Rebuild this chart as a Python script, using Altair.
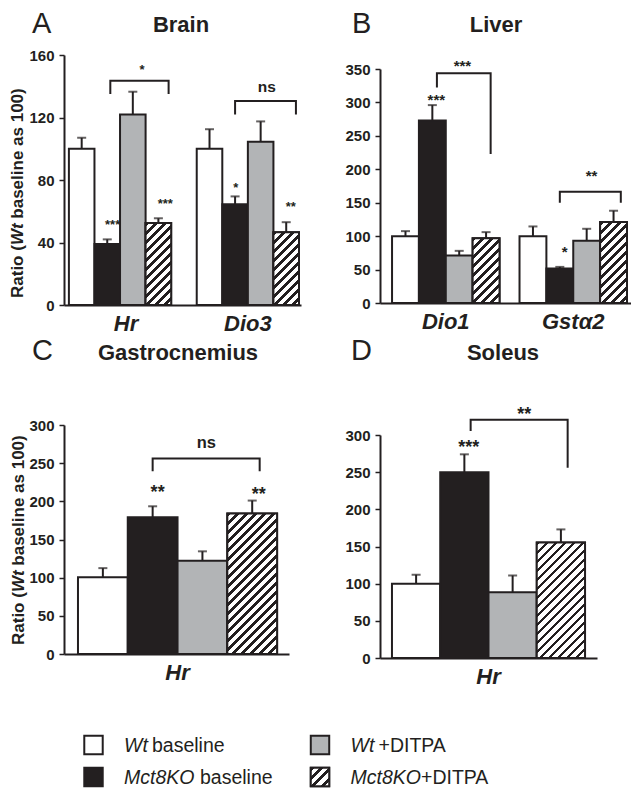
import altair as alt
import pandas as pd

FONT = "Liberation Sans"
INK = "#231f20"

groups = ["Wt baseline", "Mct8KO baseline", "Wt +DITPA", "Mct8KO+DITPA"]
fills = ["#ffffff", "#231f20", "#b2b4b6", "#ffffff"]

# positions of stars/brackets are given in bar units within a gene group (0..4)
# ---- Panel A: Brain ----
brain_genes = ["Hr", "Dio3"]
brain_mean = [100, 39, 122, 52.5, 100, 64.5, 104.5, 46.5]
brain_upper = [107, 42, 136.5, 55.5, 112.5, 69.5, 117.5, 53]
brain_stars = [("Hr", 1.71, 54, "***"), ("Hr", 3.77, 67, "***"), ("Dio3", 1.53, 77.5, "*"), ("Dio3", 3.68, 65, "**")]
brain_brackets = [("Hr", 1.62, 3.9, 143.5, 135, 135, "*", 2.86, 153),
                  ("Dio3", 1.5, 3.88, 130.5, 122, 122, "ns", 2.74, 139.5)]

# ---- Panel B: Liver ----
liver_genes = ["Dio1", "Gstα2"]
liver_mean = [100, 273, 71, 97, 100, 51.5, 93, 121]
liver_upper = [107.5, 296, 78, 106, 114.5, 54, 111, 138]
liver_stars = [("Dio1", 1.65, 310, "***"), ("Gstα2", 1.68, 83, "*")]
liver_brackets = [("Dio1", 1.67, 3.67, 343.5, 322.5, 223, "***", 2.62, 361),
                  ("Gstα2", 1.5, 3.77, 166.5, 150, 150, "**", 2.68, 195.5)]

# ---- Panel C: Gastrocnemius ----
gastro_genes = ["Hr"]
gastro_mean = [100.5, 179, 122, 184]
gastro_upper = [112.5, 193.5, 134.5, 201]
gastro_stars = [("Hr", 1.6, 217, "**"), ("Hr", 3.63, 215, "**")]
gastro_brackets = [("Hr", 1.5, 3.65, 256, 239.5, 239.5, "ns", 2.58, 277)]

# ---- Panel D: Soleus ----
soleus_genes = ["Hr"]
soleus_mean = [100, 250, 88.5, 155.5]
soleus_upper = [112, 274, 111, 173]
soleus_stars = [("Hr", 1.59, 289, "***")]
soleus_brackets = [("Hr", 1.63, 3.64, 320.5, 305.5, 256, "**", 2.74, 334)]

brain_ticks = [0, 40, 80, 120, 160]
liver_ticks = [0, 50, 100, 150, 200, 250, 300, 350]
muscle_ticks = [0, 50, 100, 150, 200, 250, 300]


def hatch_fill(w, h, period=9.0, frac=0.42):
    t = (w + h) / (w * w + h * h)
    L = w + h
    stops = []
    pos = 0.0
    while pos < L - 1e-9:
        o1 = pos / L
        o2 = min((pos + period * frac) / L, 1.0)
        o3 = min((pos + period) / L, 1.0)
        stops += [alt.GradientStop(offset=o1, color=INK), alt.GradientStop(offset=o2, color=INK),
                  alt.GradientStop(offset=o2, color="white"), alt.GradientStop(offset=o3, color="white")]
        pos += period
    return alt.LinearGradient(gradient="linear", stops=stops, x1=0, y1=0, x2=t * w, y2=t * h)


def text_layer(text, x, y, **kw):
    return alt.Chart(pd.DataFrame({"t": [text]})).mark_text(**kw).encode(
        text="t:N", x=alt.value(x), y=alt.value(y))


def panel(genes, means, uppers, stars, brackets, cfg):
    W, H = cfg["width"], cfg["height"]
    XW = cfg.get("xw", W)
    ymax = cfg["ymax"]
    r0, r1 = cfg["yrange"]
    n = len(genes)
    pi, po = cfg["pi"], cfg["po"]
    step = XW / max(1, n - pi + 2 * po)
    bw = step * (1 - pi)

    rows = []
    for i, g in enumerate(genes):
        for j, grp in enumerate(groups):
            k = i * 4 + j
            rows.append({"gene": g, "group": grp, "mean": means[k], "upper": uppers[k]})
    df = pd.DataFrame(rows)

    if XW != W:
        xscale = alt.Scale(domain=genes, paddingInner=pi, paddingOuter=po, align=cfg["align"],
                           range=[0, XW])
    else:
        xscale = alt.Scale(domain=genes, paddingInner=pi, paddingOuter=po, align=cfg["align"])
    axis_kw = dict(title=None, ticks=False, labelAngle=0, labelFontSize=22, labelFontWeight="bold",
                   labelFontStyle="italic", labelColor=INK, labelPadding=8, domainColor=INK,
                   domainWidth=2, offset=cfg["xoff"], grid=False)
    if cfg.get("label_shift"):
        g0, sh = cfg["label_shift"]
        axis_kw["labelOffset"] = {"condition": {"test": f"datum.value === '{g0}'", "value": sh},
                                  "value": 0}
    xaxis = alt.Axis(**axis_kw)
    yscale = alt.Scale(domain=[0, ymax], range=[r0, r1], nice=False, zero=True)
    yaxis = alt.Axis(title=None, values=cfg["ticks"], tickSize=5, tickWidth=1.5, tickColor=INK,
                     domainColor=INK, domainWidth=2, labelFontSize=15, labelFontWeight="bold",
                     labelColor=INK, labelPadding=5, grid=False)
    X = alt.X("gene:N", scale=xscale, axis=xaxis)
    XO = alt.XOffset("group:N", scale=alt.Scale(domain=groups, paddingInner=0, paddingOuter=0,
                                                range=[0, bw]))
    XQ = alt.XOffset("pos:Q", scale=alt.Scale(domain=[0, 4], range=[0, bw], nice=False, zero=False))

    def Y(f):
        return alt.Y(f"{f}:Q", scale=yscale, axis=yaxis)

    layers = []
    bars = alt.Chart(df).mark_bar(stroke=INK, strokeWidth=2).encode(
        x=X, xOffset=XO, y=Y("mean"),
        fill=alt.Fill("group:N", scale=alt.Scale(domain=groups, range=fills), legend=None))
    layers.append(bars)

    barw = bw / 4
    ppu = (r0 - r1) / ymax
    for i, g in enumerate(genes):
        m = means[i * 4 + 3]
        layers.append(
            alt.Chart(df).transform_filter((alt.datum.gene == g) & (alt.datum.group == groups[3]))
            .mark_bar(fill=hatch_fill(barw, m * ppu), stroke=INK, strokeWidth=2)
            .encode(x=X, xOffset=XO, y=Y("mean")))

    layers.append(alt.Chart(df).mark_rule(color=INK, strokeWidth=2).encode(
        x=X, xOffset=XO, y=Y("mean"), y2=alt.Y2("upper")))
    layers.append(alt.Chart(df).mark_tick(color=INK, size=9, thickness=2).encode(
        x=X, xOffset=XO, y=Y("upper")))

    brows, lrows = [], []
    for b, (g, lp, rp, top, llow, rlow, lab, labp, laby) in enumerate(brackets):
        brows += [dict(bid=b, ord=0, gene=g, pos=lp, val=llow),
                  dict(bid=b, ord=1, gene=g, pos=lp, val=top),
                  dict(bid=b, ord=2, gene=g, pos=rp, val=top),
                  dict(bid=b, ord=3, gene=g, pos=rp, val=rlow)]
        lrows.append(dict(gene=g, pos=labp, val=laby, label=lab))
    bdf = pd.DataFrame(brows)
    ldf = pd.DataFrame(lrows)
    sdf = pd.DataFrame([dict(gene=g, pos=p, val=v, label=l) for g, p, v, l in stars])
    layers.append(alt.Chart(bdf).mark_line(color=INK, strokeWidth=2, strokeJoin="miter").encode(
        x=X, xOffset=XQ, y=Y("val"), detail="bid:N", order="ord:Q"))
    allstars = pd.concat([sdf, ldf[ldf.label != "ns"]], ignore_index=True)
    ss = cfg["star"]
    layers.append(alt.Chart(allstars).mark_text(fontSize=ss, fontWeight="bold", color=INK,
                                                baseline="middle", dy=round(ss * 0.28)).encode(
        x=X, xOffset=XQ, y=Y("val"), text="label:N"))
    nsdf = ldf[ldf.label == "ns"]
    if len(nsdf):
        layers.append(alt.Chart(nsdf).mark_text(fontSize=cfg["ns"], fontWeight="bold", color=INK,
                                                baseline="middle").encode(
            x=X, xOffset=XQ, y=Y("val"), text="label:N"))

    lx, ly = cfg["letter"]
    layers.append(text_layer(cfg["letter_text"], lx, ly, fontSize=29, align="left", color=INK,
                             baseline="alphabetic"))
    tx, ty = cfg["title_pos"]
    layers.append(text_layer(cfg["title"], tx, ty, fontSize=22, fontWeight="bold", align="center",
                             color=INK, baseline="alphabetic"))
    if cfg.get("ylabel"):
        yx, yb = cfg["ylabel"]
        fs = 17
        w1 = 3.111 * fs
        w2 = 1.277 * fs + 0.278 * fs
        layers.append(text_layer("Ratio (", yx, yb, angle=270, fontSize=fs, fontWeight="bold",
                                 align="left", baseline="alphabetic", color=INK))
        layers.append(text_layer("Wt", yx, yb - w1, angle=270, fontSize=fs, fontWeight="bold",
                                 fontStyle="italic", align="left", baseline="alphabetic", color=INK))
        layers.append(text_layer("baseline as 100)", yx, yb - w1 - w2, angle=270, fontSize=fs,
                                 fontWeight="bold", align="left", baseline="alphabetic", color=INK))
    return (alt.layer(*layers).resolve_scale(xOffset="independent")
            .properties(width=W, height=H))


pA = panel(brain_genes, brain_mean, brain_upper, brain_stars, brain_brackets, dict(
    width=237, height=250, ymax=160, yrange=[250, 0], ticks=brain_ticks, pi=0.2, po=0.027,
    align=0.71, xoff=0, star=13, ns=15.5, letter=(-32, -22), letter_text="A",
    title="Brain", title_pos=(117, -23), ylabel=(-41, 243), label_shift=("Hr", 6)))
pB = panel(liver_genes, liver_mean, liver_upper, liver_stars, liver_brackets, dict(
    width=251, height=250, ymax=350, yrange=[248, 14], ticks=liver_ticks, pi=0.157, po=0.063,
    align=0.75, xoff=-2, star=15, ns=15.5, letter=(-28, -22), letter_text="B",
    title="Liver", title_pos=(116, -23)))
pC = panel(gastro_genes, gastro_mean, gastro_upper, gastro_stars, gastro_brackets, dict(
    width=237, xw=225, height=281, ymax=300, yrange=[277, 48], ticks=muscle_ticks, pi=0, po=0.065,
    align=0.54, xoff=-4, star=18, ns=16.5, letter=(-32, -17), letter_text="C",
    title="Gastrocnemius", title_pos=(114, -17), ylabel=(-40, 268)))
pD = panel(soleus_genes, soleus_mean, soleus_upper, soleus_stars, soleus_brackets, dict(
    width=217, height=281, ymax=300, yrange=[281, 58], ticks=muscle_ticks, pi=0, po=0.062,
    align=0.5, xoff=0, star=18, ns=16.5, letter=(-29, -17), letter_text="D",
    title="Soleus", title_pos=(123, -17)))

# ---- Legend ----
leg_col = [0, 0, 1, 1]
leg_row = [0, 1, 0, 1]
leg_prefix = ["Wt", "Mct8KO", "Wt", "Mct8KO"]
leg_suffix = ["baseline", "baseline", "+DITPA", "+DITPA"]
leg = pd.DataFrame({"group": groups, "col": leg_col, "row": leg_row,
                    "prefix": leg_prefix, "suffix": leg_suffix})
LX = alt.X("col:Q", scale=alt.Scale(domain=[0, 1], range=[29.5, 256]), axis=None)
LY = alt.Y("row:Q", scale=alt.Scale(domain=[0, 1], range=[15, 47]), axis=None)
LFS = 19.5
leg_layers = [
    alt.Chart(leg).mark_square(size=340, stroke=INK, strokeWidth=2, opacity=1).encode(
        x=LX, y=LY, fill=alt.Fill("group:N", scale=alt.Scale(domain=groups, range=fills), legend=None)),
    alt.Chart(leg).transform_filter(alt.datum.group == groups[3]).mark_square(
        size=340, stroke=INK, strokeWidth=2, opacity=1, fill=hatch_fill(18, 18, period=9, frac=0.42)).encode(
        x=LX, y=LY),
    alt.Chart(leg).mark_text(align="left", baseline="alphabetic", dx=30.5, dy=7, fontSize=LFS,
                             fontStyle="italic", color=INK).encode(x=LX, y=LY, text="prefix:N"),
    alt.Chart(leg).transform_filter(alt.datum.prefix == "Wt").mark_text(
        align="left", baseline="alphabetic", dx=30.5 + 28, dy=7, fontSize=LFS, color=INK).encode(
        x=LX, y=LY, text="suffix:N"),
    alt.Chart(leg).transform_filter((alt.datum.prefix == "Mct8KO") & (alt.datum.suffix == "baseline")).mark_text(
        align="left", baseline="alphabetic", dx=30.5 + 76, dy=7, fontSize=LFS, color=INK).encode(
        x=LX, y=LY, text="suffix:N"),
    alt.Chart(leg).transform_filter((alt.datum.prefix == "Mct8KO") & (alt.datum.suffix == "+DITPA")).mark_text(
        align="left", baseline="alphabetic", dx=30.5 + 70.5, dy=7, fontSize=LFS, color=INK).encode(
        x=LX, y=LY, text="suffix:N"),
]
legend = alt.layer(*leg_layers).properties(width=237, height=60)

chart = (alt.concat(pA, pB, pC, pD, legend, columns=2, bounds="flush", align="each",
                    spacing=alt.RowColnumber(row=72, column=79))
         .properties(padding={"top": 2, "left": 0, "right": 0, "bottom": 0})
         .configure(font=FONT)
         .configure_view(strokeWidth=0))

chart.save("out.html", embed_options={"renderer": "svg", "actions": False})
